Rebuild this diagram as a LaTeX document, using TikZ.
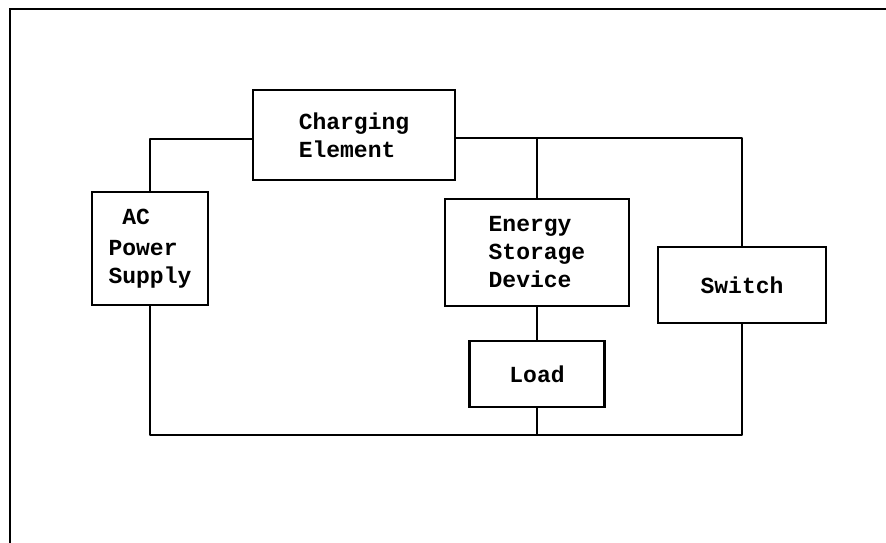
\documentclass[tikz,border=0pt]{standalone}
\usepackage{fontspec}
\setmonofont{Liberation Mono}
\begin{document}
\begin{tikzpicture}[x=1pt,y=-1pt,
  blk/.style={draw,line width=2.8pt,inner sep=0pt,font=\ttfamily\bfseries\fontsize{23}{28}\selectfont},
  wire/.style={line width=2.8pt,line join=round}]
\useasboundingbox (0,0) rectangle (886,543);
\clip (0,0) rectangle (886,543);
\draw[line width=2.2pt] (10,9) rectangle (960,620);
\node[blk,minimum width=202pt,minimum height=90pt,align=left] (charge) at (354,135) {\raisebox{-3pt}{Charging}\\\raisebox{-3pt}{Element}};
\node[blk,minimum width=116pt,minimum height=113pt,align=left] (ac) at (150,248.5) {\ AC\\[3pt]Power\\Supply};
\node[blk,minimum width=184pt,minimum height=107pt,align=left] (energy) at (537,252.5) {Energy\\Storage\\Device};
\node[blk,minimum width=168pt,minimum height=76pt] (switch) at (742,285) {\raisebox{-8pt}{Switch}};
\node[blk,minimum width=135pt,minimum height=66pt] (load) at (537,374) {Load};
\coordinate (cl) at ([yshift=-4pt]charge.west);
\coordinate (cr) at ([yshift=-3pt]charge.east);
\coordinate (bl) at (150,435);
\draw[wire] (cl) -| (ac.north);
\draw[wire] (cr) -| (switch.north);
\draw[wire] (energy.north) -- (energy.north |- cr);
\draw[wire] (energy.south) -- (load.north);
\draw[wire] (ac.south) -- (bl) -| (switch.south);
\draw[wire] (load.south) -- (load.south |- bl);
\end{tikzpicture}
\end{document}
